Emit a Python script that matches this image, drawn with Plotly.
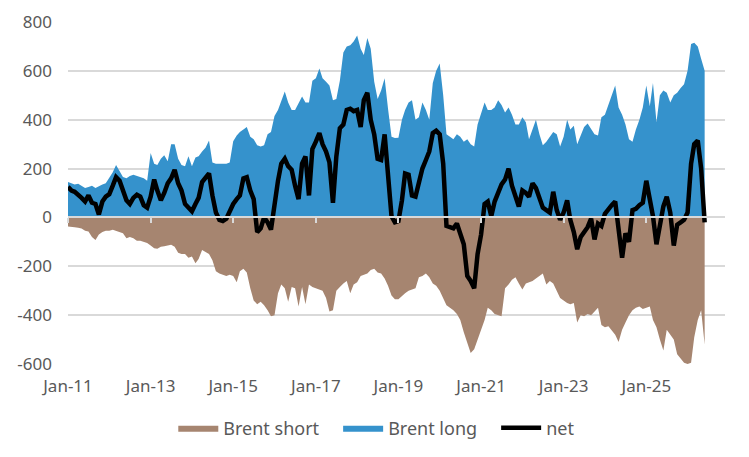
import pandas as pd
import plotly.graph_objects as go

# monthly readings, Jan 2011 .. Jun 2026
brent_long = [
    145, 140, 135, 138, 130, 120, 125, 130, 120, 128, 135, 140,   # 2011
    160, 185, 215, 190, 165, 160, 170, 175, 170, 165, 160, 150,   # 2012
    264, 220, 215, 240, 255, 230, 300, 300, 240, 215, 210, 250,   # 2013
    210, 245, 250, 270, 285, 315, 225, 220, 220, 220, 220, 225,   # 2014
    312, 335, 350, 360, 370, 330, 320, 295, 290, 295, 340, 350,   # 2015
    415, 440, 480, 515, 470, 440, 440, 470, 495, 470, 470, 560,   # 2016
    570, 610, 570, 555, 540, 480, 485, 560, 675, 700, 705, 720,   # 2017
    745, 690, 665, 735, 690, 555, 485, 520, 570, 445, 330, 325,   # 2018
    326, 400, 440, 470, 480, 400, 410, 470, 440, 400, 550, 600,   # 2019
    630, 500, 340, 330, 320, 340, 330, 310, 320, 300, 290, 380,   # 2020
    430, 470, 440, 440, 450, 480, 460, 430, 450, 420, 380, 380,   # 2021
    410, 390, 320, 360, 400, 340, 295, 310, 330, 350, 340, 290,   # 2022
    330, 400, 360, 375, 300, 340, 370, 385, 360, 340, 335, 410,   # 2023
    420, 460, 500, 540, 450, 420, 380, 320, 310, 360, 400, 450,   # 2024
    540, 455, 550, 390, 500, 520, 510, 470, 500, 510, 530, 545,   # 2025
    600, 710, 715, 700, 650, 600,                                 # 2026
]

brent_short = [
    -37, -40, -40, -42, -45, -55, -58, -80, -92, -70, -60, -55,
    -55, -50, -55, -60, -65, -85, -80, -85, -95, -95, -100, -105,
    -115, -126, -128, -120, -118, -115, -112, -120, -145, -150, -150, -165,
    -160, -188, -170, -133, -140, -150, -175, -220, -230, -235, -240, -235,
    -240, -265, -220, -210, -225, -290, -340, -355, -345, -360, -380, -405,
    -400, -310, -275, -290, -345, -285, -290, -365, -285, -355, -275, -285,
    -290, -295, -300, -330, -385, -380, -300, -285, -270, -260, -310, -275,
    -265, -240, -235, -230, -215, -210, -225, -230, -250, -280, -320, -335,
    -335, -320, -310, -300, -295, -290, -245, -240, -230, -245, -270, -280,
    -300, -330, -360, -370, -380, -395, -420, -470, -510, -555, -540, -500,
    -460, -420, -370, -380, -395, -400, -405, -290, -275, -255, -245, -270,
    -295, -270, -265, -260, -250, -240, -230, -275, -260, -270, -300, -330,
    -340, -350, -355, -350, -430, -400, -405, -395, -400, -385, -370, -440,
    -450, -445, -460, -480, -510, -460, -430, -400, -380, -370, -365, -375,
    -370, -365, -420, -450, -500, -545, -460, -480, -500, -560, -580, -595,
    -600, -595, -490, -420, -380, -520,
]

net = [
    125, 110, 105, 95, 80, 65, 90, 60, 55, 12, 65, 85,
    95, 130, 165, 150, 115, 70, 55, 80, 93, 85, 50, 40,
    85, 155, 110, 70, 100, 140, 160, 195, 140, 110, 55, 40,
    25, 55, 80, 145, 160, 180, 90, 20, -10, -15, -5, 30,
    55, 75, 90, 160, 165, 110, 75, -60, -45, 0, -20, -50,
    60, 150, 220, 240, 210, 195, 130, 75, 220, 250, 90, 280,
    310, 345, 300, 270, 225, 60, 250, 365, 380, 440, 445, 435,
    440, 370, 480, 510, 400, 340, 240, 235, 340, 160, 5, -20,
    -15, 70, 180, 175, 90, 85, 140, 200, 235, 270, 345, 355,
    340, 220, -35, -40, -45, -25, -70, -110, -240, -260, -290, -150,
    -70, 55, 65, 5, 65, 100, 135, 155, 200, 130, 90, 45,
    110, 100, 85, 140, 120, 75, 40, 30, 20, 105, 30, -10,
    20, 70, -10, -60, -130, -80, -60, -40, -5, -90, -25, -35,
    15, 35, 50, 65, -40, -165, -65, -100, 30, 35, 50, 60,
    150, 85, 5, -110, -35, 45, 85, 20, -115, -30, -20, -10,
    20, 220, 300, 315, 200, -20,
]

y_ticks = [-600, -400, -200, 0, 200, 400, 600, 800]
y_tick_labels = ["-600", "-400", "-200", "0", "200", "400", "600", "800"]

dates = pd.date_range("2011-01-01", periods=len(net), freq="MS")

grey_txt = "#595959"
grid = "#D9D9D9"
pad = "\u00a0" * 3   # wider gap between legend entries

fig = go.Figure()
fig.add_trace(go.Scatter(
    x=dates, y=brent_short, name="Brent short" + pad,
    mode="lines", line=dict(width=0, color="#A68570"),
    fill="tozeroy", fillcolor="#A68570",
))
fig.add_trace(go.Scatter(
    x=dates, y=brent_long, name="Brent long" + pad,
    mode="lines", line=dict(width=0, color="#3592CC"),
    fill="tozeroy", fillcolor="#3592CC",
))
fig.add_trace(go.Scatter(
    x=dates, y=net, name="net",
    mode="lines", line=dict(width=4.5, color="black"),
))
# empty trace so the axis drawn at zero is rendered
fig.add_trace(go.Scatter(x=[dates[0]], y=[None], xaxis="x2", showlegend=False,
                         hoverinfo="skip"))

fig.update_layout(
    width=749, height=457,
    margin=dict(l=68, r=24, t=22, b=93, autoexpand=False),
    paper_bgcolor="white", plot_bgcolor="white",
    font=dict(family="Noto Sans", size=17, color=grey_txt),
    showlegend=True,
    legend=dict(orientation="h", x=0.47, xanchor="center", y=-0.187, yanchor="middle",
                font=dict(size=18, color=grey_txt), itemwidth=40),
    xaxis=dict(
        range=["2011-01-01", "2026-11-28"],
        tick0="2011-01-01", dtick="M24", tickformat="%b-%y",
        showgrid=False, zeroline=False, showline=False, ticks="",
        ticklabelstandoff=10, automargin=False,
    ),
    xaxis2=dict(
        overlaying="x", matches="x", anchor="free", position=600 / 1400,
        showline=True, linecolor=grid, linewidth=2,
        ticks="outside", ticklen=5, tickcolor=grid, tickwidth=2,
        tick0="2011-01-01", dtick="M24",
        showticklabels=False, showgrid=False, zeroline=False,
    ),
    yaxis=dict(
        range=[-600, 800], tickvals=y_ticks, ticktext=y_tick_labels,
        showgrid=True, gridcolor=grid, gridwidth=1.5,
        zeroline=False, showline=False, ticks="",
        ticklabelstandoff=15, automargin=False,
    ),
)

fig.write_html("out.html", config={"displayModeBar": False},
               post_script="document.body.style.margin='0';")
